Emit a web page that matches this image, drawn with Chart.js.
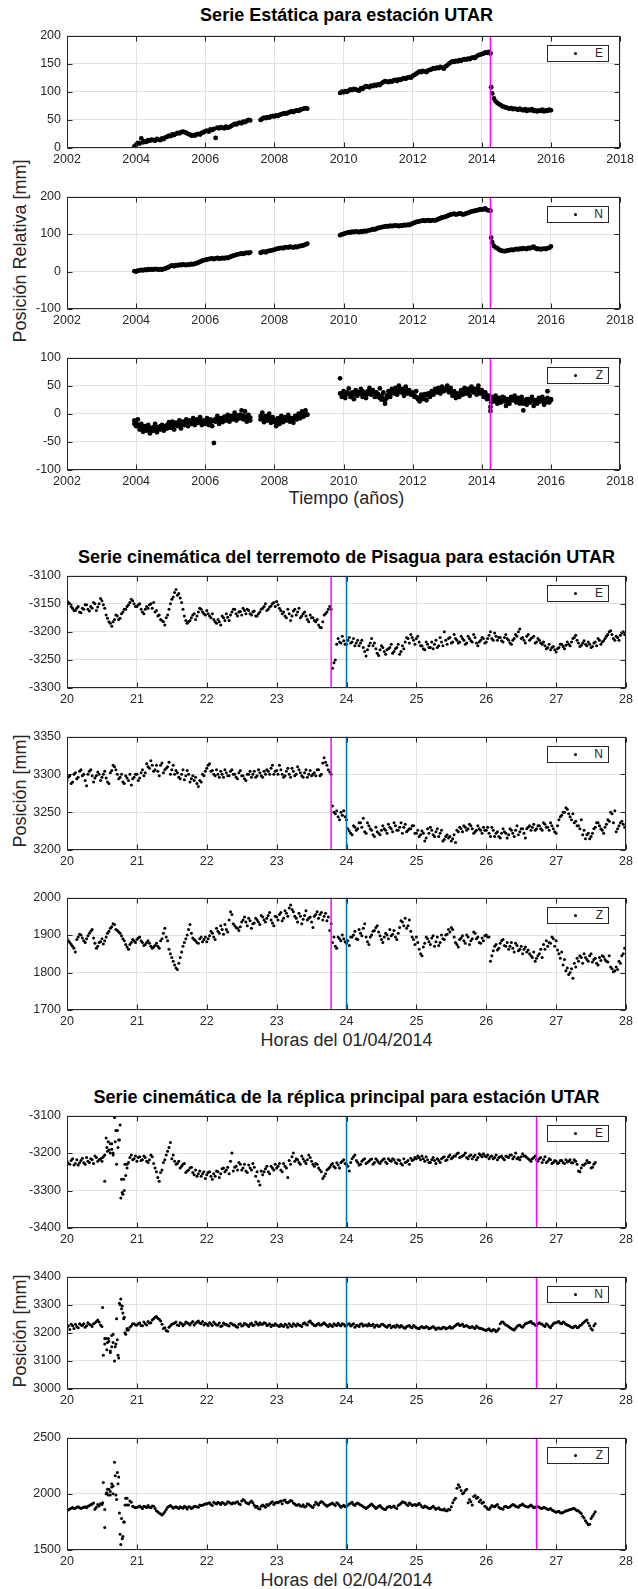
<!DOCTYPE html>
<html lang="es">
<head>
<meta charset="UTF-8">
<title>Series UTAR</title>
<script src="https://cdn.jsdelivr.net/npm/chart.js"></script>
<style>
  body { margin: 0; background: #fff; font-family: "Liberation Sans", Arial, sans-serif; color: #262626; }
  #page { position: relative; width: 638px; height: 1589px; overflow: hidden; }
  canvas { position: absolute; left: 0; }
  .title { position: absolute; left: 37px; width: 619px; text-align: center; font-weight: bold; font-size: 18px; line-height: 20px; color: #000; white-space: nowrap; }
  .xlab { position: absolute; left: 67px; width: 559px; text-align: center; font-size: 18px; line-height: 20px; }
  .ylab { position: absolute; left: -130px; width: 300px; text-align: center; font-size: 18px; line-height: 20px; transform: rotate(-90deg); }
  .leg { position: absolute; left: 547px; width: 60px; height: 15px; border: 1px solid #262626; background: #fff; font-size: 12px; }
  .leg i { position: absolute; left: 26px; top: 6px; width: 3px; height: 3px; border-radius: 50%; background: #000; }
  .leg b { position: absolute; right: 5px; top: 1px; font-weight: normal; line-height: 13px; }
</style>
</head>
<body>
<div id="page">
  <div class="title" style="top:5px">Serie Estática para estación UTAR</div>
  <div class="title" style="top:547px">Serie cinemática del terremoto de Pisagua para estación UTAR</div>
  <div class="title" style="top:1087px">Serie cinemática de la réplica principal para estación UTAR</div>
  <div class="xlab" style="top:488px">Tiempo (años)</div>
  <div class="xlab" style="top:1030px">Horas del 01/04/2014</div>
  <div class="xlab" style="top:1570px">Horas del 02/04/2014</div>
  <div class="ylab" style="top:241px">Posición Relativa [mm]</div>
  <div class="ylab" style="top:781px">Posición [mm]</div>
  <div class="ylab" style="top:1321px">Posición [mm]</div>
</div>
<script>
// ---- static series (years) ----
const years = [
  2003.95,
  2004.00,2004.05,2004.10,2004.15,2004.20,2004.25,2004.30,2004.35,2004.40,2004.45,2004.50,2004.55,2004.60,2004.65,2004.70,2004.75,2004.80,2004.85,2004.90,2004.95,
  2005.00,2005.05,2005.10,2005.15,2005.20,2005.25,2005.30,2005.35,2005.40,2005.45,2005.50,2005.55,2005.60,2005.65,2005.70,2005.75,2005.80,2005.85,2005.90,2005.95,
  2006.00,2006.05,2006.10,2006.15,2006.20,2006.25,2006.30,2006.35,2006.40,2006.45,2006.50,2006.55,2006.60,2006.65,2006.70,2006.75,2006.80,2006.85,2006.90,2006.95,
  2007.00,2007.05,2007.10,2007.15,2007.20,2007.25,2007.30,
  2007.60,2007.65,2007.70,2007.75,2007.80,2007.85,2007.90,2007.95,
  2008.00,2008.05,2008.10,2008.15,2008.20,2008.25,2008.30,2008.35,2008.40,2008.45,2008.50,2008.55,2008.60,2008.65,2008.70,2008.75,2008.80,2008.85,2008.90,2008.95,
  2009.90,2009.95,
  2010.00,2010.05,2010.10,2010.15,2010.20,2010.25,2010.30,2010.35,2010.40,2010.45,2010.50,2010.55,2010.60,2010.65,2010.70,2010.75,2010.80,2010.85,2010.90,2010.95,
  2011.00,2011.05,2011.10,2011.15,2011.20,2011.25,2011.30,2011.35,2011.40,2011.45,2011.50,2011.55,2011.60,2011.65,2011.70,2011.75,2011.80,2011.85,2011.90,2011.95,
  2012.00,2012.05,2012.10,2012.15,2012.20,2012.25,2012.30,2012.35,2012.40,2012.45,2012.50,2012.55,2012.60,2012.65,2012.70,2012.75,2012.80,2012.85,2012.90,2012.95,
  2013.00,2013.05,2013.10,2013.15,2013.20,2013.25,2013.30,2013.35,2013.40,2013.45,2013.50,2013.55,2013.60,2013.65,2013.70,2013.75,2013.80,2013.85,2013.90,2013.95,
  2014.00,2014.05,2014.10,2014.15,2014.20,2014.25,
  2014.27,2014.30,2014.35,2014.40,2014.45,2014.50,2014.55,2014.60,2014.65,2014.70,2014.75,2014.80,2014.85,2014.90,2014.95,
  2015.00,2015.05,2015.10,2015.15,2015.20,2015.25,2015.30,2015.35,2015.40,2015.45,2015.50,2015.55,2015.60,2015.65,2015.70,2015.75,2015.80,2015.85,2015.90,2015.95,
  2016.00
];
const eStatic = [
  3,
  6,9,8,17,10,12,11,14,13,15,14,13,16,15,14,17,16,19,20,22,
  21,24,23,25,27,26,28,29,28,27,25,24,22,23,22,24,25,24,27,28,
  30,31,29,33,32,34,18,36,35,37,36,35,38,36,37,39,41,43,42,44,
  45,44,47,46,48,50,49,
  50,52,54,53,55,54,56,57,
  56,58,57,59,60,61,62,61,63,64,65,64,66,67,66,68,69,70,71,70,
  98,100,
  99,101,100,102,104,103,105,104,103,102,106,105,108,110,109,108,111,110,112,111,
  113,112,115,117,119,118,117,119,118,120,121,119,122,121,123,124,123,125,126,125,
  128,130,132,134,136,135,137,136,135,138,139,140,142,141,143,142,144,143,141,145,
  147,150,152,154,153,155,154,156,155,157,158,157,159,158,160,161,160,163,165,166,
  167,168,170,169,171,168,
  108,97,88,83,80,78,76,74,73,72,71,70,71,69,70,
  69,68,70,68,67,69,66,68,67,69,66,67,65,67,66,68,65,67,66,68,
  67
];
const nStatic = [
  1,
  0,2,3,4,3,5,4,6,5,6,5,7,6,5,6,5,7,8,10,12,
  15,16,14,17,16,18,17,19,18,17,19,18,20,19,21,22,24,26,28,30,
  31,32,33,34,35,33,35,36,34,35,36,35,37,36,38,40,42,43,45,46,
  47,48,47,49,50,49,51,
  50,52,53,51,54,55,56,57,
  58,60,61,62,63,62,64,65,64,66,65,64,66,65,67,68,69,70,72,74,
  97,99,
  100,102,103,105,104,106,105,107,106,105,107,106,108,107,109,110,111,113,112,114,
  116,117,118,119,120,121,120,122,121,122,123,122,121,123,122,124,123,125,124,126,
  128,130,132,133,134,135,136,135,136,137,135,136,137,136,138,140,142,144,145,146,
  148,150,152,153,154,152,153,155,154,152,153,155,156,158,160,161,162,163,164,166,
  165,166,168,164,163,162,
  90,78,68,64,62,58,56,55,54,55,56,57,58,57,59,
  60,59,61,60,62,61,60,63,62,64,66,62,60,61,59,60,61,60,62,63,
  67
];
// Z is a wide band: two samples per epoch
const zStatic = [
  -12,
  -22,-10,-28,-18,-32,-22,-30,-20,-35,-25,-30,-18,-33,-24,-28,-20,-30,-22,-26,-15,
  -25,-14,-28,-16,-22,-12,-26,-14,-20,-10,-22,-12,-18,-8,-20,-10,-16,-6,-20,-12,
  -18,-8,-20,-10,-22,-52,-14,-4,-18,-8,-15,-5,-12,-2,-14,-4,-10,2,-12,-3,
  -8,6,-10,4,-14,-2,-12,
  -10,2,-15,-4,-12,0,-16,-6,
  -10,-22,-8,-18,-4,-15,-6,-12,-2,-14,-8,-16,-4,-10,0,-8,4,-5,6,-2,
  63,30,
  40,28,35,45,30,38,26,42,32,36,44,30,38,28,40,46,34,42,30,38,
  35,45,25,38,18,32,40,30,44,36,46,34,50,38,44,32,48,36,42,34,
  38,30,40,28,22,34,26,32,24,36,30,40,34,44,38,46,36,48,40,44,
  50,38,46,32,40,28,36,30,42,34,46,36,44,32,48,38,44,34,50,36,
  42,30,38,26,32,5,
  20,30,22,32,18,28,20,30,22,14,26,18,30,24,32,
  20,28,18,30,6,24,16,26,20,30,14,24,18,28,22,30,16,26,40,20,
  24
];
const zStatic2 = [
  -18,
  -16,-20,-22,-25,-26,-28,-24,-27,-29,-30,-24,-26,-28,-25,-22,-24,-26,-27,-20,-21,
  -19,-22,-20,-18,-17,-19,-21,-18,-16,-15,-17,-16,-13,-15,-14,-16,-11,-13,-15,-16,
  -13,-14,-15,-16,-12,-13,-9,-10,-12,-11,-9,-8,-7,-6,-9,-8,-4,-5,-6,-8,
  -2,-3,-4,-5,-6,-8,-7,
  -4,-6,-8,-9,-5,-7,-10,-11,
  -15,-14,-13,-11,-9,-8,-10,-6,-7,-8,-10,-9,-6,-4,-5,-3,-1,0,-2,-1,
  36,34,
  34,36,38,36,35,33,34,36,37,38,36,40,34,36,35,38,40,38,36,34,
  30,28,32,26,24,28,34,36,38,40,42,40,42,44,38,40,38,42,38,36,
  34,32,30,26,28,30,32,35,33,34,36,38,40,42,41,40,44,46,44,42,
  44,42,40,38,35,34,32,34,36,38,40,42,38,40,42,44,40,42,44,38,
  38,36,34,32,28,12,
  26,24,26,28,25,22,26,24,28,25,20,22,26,28,24,
  26,24,22,25,18,20,26,22,24,26,22,20,24,22,26,24,22,20,28,22,
  26
];

// ---- kinematic series (hours) ----
const hours = [
  20.00,20.04,20.08,20.12,20.16,20.20,20.24,20.28,20.32,20.36,20.40,20.44,20.48,20.52,20.56,20.60,20.64,20.68,20.72,20.76,20.80,20.84,20.88,20.92,20.96,
  21.00,21.04,21.08,21.12,21.16,21.20,21.24,21.28,21.32,21.36,21.40,21.44,21.48,21.52,21.56,21.60,21.64,21.68,21.72,21.76,21.80,21.84,21.88,21.92,21.96,
  22.00,22.04,22.08,22.12,22.16,22.20,22.24,22.28,22.32,22.36,22.40,22.44,22.48,22.52,22.56,22.60,22.64,22.68,22.72,22.76,22.80,22.84,22.88,22.92,22.96,
  23.00,23.04,23.08,23.12,23.16,23.20,23.24,23.28,23.32,23.36,23.40,23.44,23.48,23.52,23.56,23.60,23.64,23.68,23.72,23.76,23.80,23.84,23.88,23.92,23.96,
  24.00,24.04,24.08,24.12,24.16,24.20,24.24,24.28,24.32,24.36,24.40,24.44,24.48,24.52,24.56,24.60,24.64,24.68,24.72,24.76,24.80,24.84,24.88,24.92,24.96,
  25.00,25.04,25.08,25.12,25.16,25.20,25.24,25.28,25.32,25.36,25.40,25.44,25.48,25.52,25.56,25.60,25.64,25.68,25.72,25.76,25.80,25.84,25.88,25.92,25.96,
  26.00,26.04,26.08,26.12,26.16,26.20,26.24,26.28,26.32,26.36,26.40,26.44,26.48,26.52,26.56,26.60,26.64,26.68,26.72,26.76,26.80,26.84,26.88,26.92,26.96,
  27.00,27.04,27.08,27.12,27.16,27.20,27.24,27.28,27.32,27.36,27.40,27.44,27.48,27.52,27.56,27.60,27.64,27.68,27.72,27.76,27.80,27.84,27.88,27.92,27.96
];
const hoursMid = [
  20.02,20.06,20.10,20.14,20.18,20.22,20.26,20.30,20.34,20.38,20.42,20.46,20.50,20.54,20.58,20.62,20.66,20.70,20.74,20.78,20.82,20.86,20.90,20.94,20.98,
  21.02,21.06,21.10,21.14,21.18,21.22,21.26,21.30,21.34,21.38,21.42,21.46,21.50,21.54,21.58,21.62,21.66,21.70,21.74,21.78,21.82,21.86,21.90,21.94,21.98,
  22.02,22.06,22.10,22.14,22.18,22.22,22.26,22.30,22.34,22.38,22.42,22.46,22.50,22.54,22.58,22.62,22.66,22.70,22.74,22.78,22.82,22.86,22.90,22.94,22.98,
  23.02,23.06,23.10,23.14,23.18,23.22,23.26,23.30,23.34,23.38,23.42,23.46,23.50,23.54,23.58,23.62,23.66,23.70,23.74,23.78,23.82,23.86,23.90,23.94,23.98,
  24.02,24.06,24.10,24.14,24.18,24.22,24.26,24.30,24.34,24.38,24.42,24.46,24.50,24.54,24.58,24.62,24.66,24.70,24.74,24.78,24.82,24.86,24.90,24.94,24.98,
  25.02,25.06,25.10,25.14,25.18,25.22,25.26,25.30,25.34,25.38,25.42,25.46,25.50,25.54,25.58,25.62,25.66,25.70,25.74,25.78,25.82,25.86,25.90,25.94,25.98,
  26.02,26.06,26.10,26.14,26.18,26.22,26.26,26.30,26.34,26.38,26.42,26.46,26.50,26.54,26.58,26.62,26.66,26.70,26.74,26.78,26.82,26.86,26.90,26.94,26.98,
  27.02,27.06,27.10,27.14,27.18,27.22,27.26,27.30,27.34,27.38,27.42,27.46,27.50,27.54,27.58,27.62,27.66,27.70,27.74,27.78,27.82,27.86,27.90,27.94,27.98
];
// 01/04/2014
const eQuake = [
  -3145,-3150,-3158,-3162,-3155,-3166,-3160,-3152,-3163,-3158,-3150,-3156,-3141,-3152,-3170,-3182,-3190,-3178,-3172,-3176,-3165,-3160,-3152,-3142,-3150,
  -3155,-3150,-3165,-3160,-3158,-3150,-3148,-3162,-3170,-3180,-3188,-3170,-3150,-3138,-3125,-3132,-3148,-3172,-3185,-3180,-3170,-3178,-3165,-3160,-3168,
  -3162,-3172,-3168,-3182,-3178,-3188,-3175,-3168,-3180,-3165,-3160,-3172,-3164,-3158,-3168,-3162,-3170,-3163,-3172,-3165,-3158,-3150,-3160,-3154,-3148,
  -3146,-3158,-3168,-3172,-3160,-3180,-3163,-3170,-3158,-3172,-3165,-3178,-3170,-3175,-3182,-3188,-3193,-3170,-3165,-3155,-3265,-3250,-3212,-3220,-3216,
  -3222,-3210,-3218,-3225,-3215,-3220,-3228,-3243,-3225,-3212,-3220,-3238,-3232,-3228,-3240,-3230,-3222,-3235,-3228,-3240,-3225,-3218,-3212,-3205,-3215,
  -3212,-3218,-3225,-3232,-3222,-3228,-3230,-3215,-3225,-3218,-3200,-3222,-3210,-3218,-3212,-3220,-3208,-3215,-3220,-3212,-3218,-3210,-3225,-3215,-3212,
  -3218,-3206,-3212,-3202,-3215,-3210,-3218,-3205,-3215,-3222,-3212,-3208,-3195,-3210,-3220,-3205,-3212,-3208,-3218,-3215,-3222,-3225,-3228,-3232,-3226,
  -3236,-3228,-3222,-3230,-3218,-3225,-3212,-3206,-3220,-3224,-3216,-3225,-3222,-3226,-3218,-3212,-3222,-3216,-3208,-3200,-3205,-3215,-3210,-3206,-3200
];
const eQuake2 = [
  -3148,-3155,-3162,-3158,-3165,-3158,-3152,-3160,-3155,-3148,-3162,-3150,-3145,-3158,-3176,-3185,-3182,-3170,-3178,-3168,-3160,-3155,-3148,-3145,-3155,
  -3152,-3160,-3168,-3155,-3152,-3158,-3165,-3172,-3178,-3182,-3175,-3160,-3142,-3130,-3135,-3140,-3160,-3180,-3182,-3175,-3168,-3172,-3158,-3165,-3170,
  -3168,-3175,-3178,-3185,-3182,-3172,-3180,-3174,-3170,-3160,-3168,-3165,-3170,-3162,-3160,-3168,-3165,-3172,-3168,-3160,-3155,-3162,-3156,-3150,-3155,
  -3152,-3162,-3165,-3175,-3168,-3172,-3160,-3165,-3175,-3168,-3172,-3182,-3175,-3180,-3178,-3192,-3182,-3168,-3160,-3160,-3255,-3222,-3218,-3208,-3222,
  -3215,-3220,-3212,-3220,-3225,-3215,-3235,-3232,-3220,-3225,-3230,-3242,-3225,-3235,-3232,-3228,-3238,-3230,-3222,-3235,-3230,-3210,-3220,-3210,-3222,
  -3208,-3225,-3230,-3218,-3228,-3218,-3222,-3228,-3210,-3225,-3215,-3212,-3220,-3205,-3215,-3218,-3212,-3222,-3208,-3216,-3205,-3220,-3218,-3210,-3220,
  -3212,-3200,-3215,-3208,-3210,-3216,-3210,-3212,-3220,-3215,-3205,-3200,-3212,-3215,-3208,-3215,-3210,-3220,-3212,-3220,-3218,-3230,-3222,-3228,-3232,
  -3230,-3222,-3226,-3224,-3222,-3218,-3210,-3215,-3226,-3220,-3222,-3218,-3228,-3220,-3225,-3215,-3218,-3212,-3205,-3198,-3212,-3208,-3215,-3202,-3205
];
const nQuake = [
  3292,3298,3290,3302,3296,3306,3300,3285,3304,3298,3295,3303,3292,3300,3295,3288,3305,3310,3300,3296,3290,3298,3292,3286,3296,
  3300,3295,3306,3302,3310,3318,3304,3312,3298,3315,3306,3310,3300,3312,3305,3296,3300,3293,3305,3290,3298,3296,3284,3290,3298,
  3308,3314,3305,3298,3300,3304,3296,3302,3298,3306,3300,3294,3305,3298,3292,3300,3296,3304,3298,3302,3296,3300,3304,3308,3300,
  3305,3312,3300,3298,3308,3296,3304,3300,3306,3298,3302,3296,3305,3300,3298,3306,3300,3322,3312,3303,3258,3248,3244,3250,3252,
  3240,3225,3220,3230,3228,3236,3242,3222,3232,3226,3218,3224,3220,3232,3226,3234,3228,3236,3226,3230,3222,3234,3226,3228,3232,
  3222,3218,3225,3212,3228,3230,3220,3224,3218,3226,3214,3220,3218,3215,3210,3224,3228,3232,3226,3234,3228,3224,3232,3226,3230,
  3226,3222,3230,3218,3224,3216,3228,3222,3220,3226,3218,3232,3224,3228,3216,3230,3226,3234,3228,3232,3226,3234,3230,3236,3228,
  3222,3240,3246,3250,3254,3244,3248,3238,3232,3240,3226,3220,3215,3222,3230,3236,3228,3222,3234,3238,3248,3252,3228,3236,3234
];
const nQuake2 = [
  3296,3288,3300,3294,3304,3298,3292,3300,3306,3290,3298,3300,3296,3304,3290,3302,3312,3306,3294,3300,3288,3295,3300,3294,3300,
  3292,3302,3298,3314,3308,3312,3306,3304,3312,3302,3308,3316,3306,3300,3302,3294,3306,3298,3300,3294,3292,3288,3292,3300,3304,
  3312,3304,3300,3306,3296,3300,3306,3298,3304,3300,3296,3302,3298,3294,3300,3304,3300,3296,3306,3298,3304,3306,3300,3312,3304,
  3300,3306,3296,3304,3300,3308,3298,3310,3302,3296,3306,3300,3298,3302,3306,3298,3315,3316,3306,3300,3250,3252,3240,3246,3244,
  3228,3222,3232,3226,3236,3230,3224,3236,3228,3220,3230,3222,3226,3228,3222,3230,3224,3232,3226,3236,3230,3224,3228,3232,3222,
  3226,3220,3222,3216,3222,3226,3218,3228,3222,3212,3218,3216,3212,3220,3226,3230,3224,3230,3228,3232,3222,3226,3228,3222,3226,
  3230,3218,3226,3222,3218,3222,3224,3216,3228,3222,3226,3220,3228,3222,3228,3232,3230,3226,3232,3228,3236,3230,3226,3232,3224,
  3232,3244,3250,3256,3248,3240,3236,3232,3228,3220,3215,3222,3218,3228,3236,3232,3226,3230,3240,3250,3236,3224,3232,3238,3230
];
const zQuake = [
  1892,1880,1870,1855,1895,1900,1885,1890,1905,1915,1878,1870,1882,1876,1895,1910,1922,1928,1912,1905,1890,1875,1862,1880,1884,
  1888,1895,1880,1875,1885,1870,1868,1878,1865,1890,1918,1885,1850,1830,1812,1825,1855,1880,1900,1928,1892,1885,1878,1895,1888,
  1882,1898,1905,1888,1910,1925,1902,1915,1940,1955,1925,1918,1922,1940,1935,1945,1918,1932,1940,1928,1948,1935,1952,1940,1925,
  1948,1955,1938,1965,1950,1980,1962,1945,1958,1930,1952,1940,1948,1920,1955,1945,1960,1950,1938,1912,1880,1870,1895,1885,1890,
  1878,1872,1895,1910,1888,1905,1918,1895,1875,1900,1912,1925,1898,1880,1905,1890,1898,1912,1888,1920,1935,1945,1925,1910,1888,
  1895,1862,1845,1878,1890,1875,1898,1882,1872,1900,1888,1902,1908,1915,1880,1868,1892,1885,1900,1875,1890,1905,1895,1878,1885,
  1900,1895,1845,1870,1860,1878,1888,1870,1862,1880,1855,1872,1862,1850,1868,1860,1845,1855,1838,1850,1840,1862,1870,1878,1890,
  1885,1850,1855,1835,1812,1800,1785,1815,1830,1840,1850,1835,1845,1828,1838,1820,1832,1842,1830,1845,1810,1805,1808,1825,1850
];
const zQuake2 = [
  1885,1875,1865,1888,1902,1892,1880,1898,1910,1892,1865,1880,1890,1885,1905,1918,1930,1915,1908,1898,1885,1868,1875,1888,1880,
  1892,1885,1872,1880,1878,1865,1872,1870,1885,1905,1895,1862,1840,1820,1808,1840,1870,1890,1915,1905,1888,1880,1890,1882,1895,
  1890,1910,1895,1918,1905,1915,1928,1908,1962,1930,1920,1912,1935,1948,1925,1938,1930,1945,1935,1952,1940,1945,1960,1932,1950,
  1940,1960,1945,1958,1972,1968,1950,1935,1950,1942,1965,1945,1935,1950,1962,1955,1940,1958,1948,1930,1895,1865,1890,1900,1882,
  1885,1895,1900,1890,1915,1898,1930,1882,1895,1910,1920,1908,1888,1895,1900,1915,1902,1895,1905,1938,1925,1918,1940,1895,1875,
  1880,1850,1868,1895,1882,1892,1870,1895,1880,1890,1900,1915,1920,1895,1875,1888,1898,1878,1895,1885,1908,1890,1880,1892,1898,
  1895,1830,1858,1875,1865,1885,1872,1880,1870,1865,1878,1858,1870,1862,1855,1850,1840,1830,1845,1862,1875,1885,1880,1895,1870,
  1860,1838,1820,1805,1795,1810,1825,1838,1845,1825,1840,1830,1850,1835,1825,1840,1845,1835,1828,1815,1802,1815,1830,1845,1865
];
// 02/04/2014 (record ends at 27.56 h)
const eAfter = [
  -3222,-3230,-3215,-3228,-3232,-3220,-3226,-3212,-3225,-3218,-3208,-3222,-3215,-3210,-3160,-3192,-3175,-3105,-3140,-3125,-3310,-3260,-3225,-3205,-3215,
  -3222,-3210,-3218,-3212,-3225,-3205,-3228,-3250,-3275,-3245,-3218,-3195,-3172,-3205,-3230,-3222,-3235,-3228,-3248,-3240,-3252,-3245,-3255,-3262,-3250,
  -3258,-3250,-3270,-3262,-3250,-3255,-3240,-3245,-3255,-3200,-3238,-3245,-3230,-3240,-3248,-3232,-3245,-3238,-3250,-3285,-3258,-3242,-3250,-3235,-3245,
  -3240,-3228,-3250,-3235,-3265,-3230,-3200,-3215,-3225,-3208,-3222,-3218,-3212,-3230,-3228,-3240,-3250,-3262,-3245,-3238,-3228,-3240,-3232,-3225,-3218,
  -3230,-3248,-3215,-3205,-3225,-3230,-3218,-3228,-3222,-3216,-3225,-3220,-3228,-3218,-3224,-3215,-3222,-3218,-3228,-3220,-3232,-3225,-3220,-3214,-3218,
  -3215,-3212,-3208,-3222,-3218,-3225,-3212,-3228,-3220,-3215,-3210,-3218,-3205,-3212,-3208,-3200,-3210,-3205,-3212,-3208,-3215,-3205,-3212,-3206,-3202,
  -3210,-3215,-3208,-3212,-3218,-3210,-3214,-3208,-3212,-3205,-3210,-3215,-3218,-3202,-3208,-3215,-3222,-3212,-3218,-3215,-3225,-3210,-3222,-3218,-3225,
  -3222,-3226,-3220,-3228,-3224,-3218,-3226,-3222,-3248,-3240,-3232,-3220,-3225,-3238,-3225
];
const eAfter2 = [
  -3228,-3220,-3232,-3218,-3226,-3214,-3230,-3222,-3215,-3228,-3212,-3218,-3222,-3205,-3195,-3175,-3200,-3140,-3165,-3270,-3300,-3230,-3212,-3218,-3208,
  -3212,-3220,-3208,-3222,-3218,-3210,-3240,-3265,-3252,-3225,-3205,-3185,-3215,-3222,-3228,-3240,-3230,-3252,-3245,-3238,-3258,-3262,-3248,-3255,-3268,
  -3252,-3262,-3255,-3248,-3265,-3242,-3250,-3238,-3222,-3248,-3235,-3225,-3245,-3230,-3252,-3240,-3228,-3262,-3275,-3248,-3250,-3235,-3255,-3240,-3230,
  -3235,-3245,-3228,-3240,-3220,-3210,-3222,-3218,-3230,-3215,-3228,-3205,-3222,-3235,-3230,-3245,-3268,-3255,-3242,-3232,-3236,-3226,-3240,-3222,-3228,
  -3235,-3225,-3210,-3220,-3232,-3222,-3215,-3225,-3218,-3230,-3215,-3225,-3222,-3215,-3228,-3220,-3215,-3225,-3218,-3228,-3215,-3224,-3230,-3220,-3212,
  -3208,-3218,-3215,-3210,-3225,-3218,-3220,-3215,-3225,-3212,-3220,-3210,-3215,-3208,-3202,-3212,-3208,-3200,-3215,-3205,-3210,-3218,-3202,-3210,-3208,
  -3205,-3210,-3215,-3205,-3212,-3208,-3218,-3210,-3205,-3215,-3200,-3212,-3210,-3208,-3212,-3218,-3215,-3208,-3222,-3212,-3218,-3225,-3215,-3228,-3220,
  -3228,-3220,-3225,-3218,-3222,-3226,-3218,-3230,-3250,-3232,-3228,-3225,-3240,-3230
];
const nAfter = [
  3220,3212,3225,3230,3218,3228,3232,3225,3230,3222,3235,3245,3228,3120,3180,3170,3150,3100,3175,3300,3270,3195,3210,3225,3232,
  3228,3235,3225,3232,3240,3236,3250,3258,3248,3230,3218,3205,3225,3232,3238,3226,3232,3230,3236,3228,3240,3234,3242,3232,3228,
  3230,3236,3226,3232,3228,3222,3235,3230,3224,3232,3228,3220,3232,3226,3230,3222,3234,3228,3232,3236,3230,3234,3228,3222,3226,
  3228,3222,3225,3230,3220,3226,3232,3224,3228,3222,3236,3228,3242,3230,3225,3234,3228,3236,3226,3230,3222,3228,3234,3225,3230,
  3226,3232,3228,3220,3226,3230,3224,3228,3232,3226,3220,3228,3224,3230,3222,3226,3218,3224,3228,3220,3222,3216,3224,3220,3226,
  3218,3214,3222,3218,3220,3216,3222,3212,3218,3214,3220,3216,3222,3218,3226,3232,3228,3222,3226,3218,3222,3215,3220,3216,3212,
  3208,3214,3206,3210,3208,3232,3238,3228,3222,3215,3210,3222,3228,3220,3232,3236,3240,3232,3226,3236,3230,3222,3228,3218,3232,
  3236,3240,3232,3236,3228,3222,3218,3224,3220,3228,3238,3245,3225,3210,3232
];
const nAfter2 = [
  3225,3230,3215,3222,3232,3226,3220,3236,3228,3232,3240,3238,3222,3180,3165,3135,3195,3160,3110,3285,3255,3210,3220,3232,3228,
  3232,3226,3238,3228,3235,3245,3255,3252,3242,3215,3208,3220,3230,3235,3228,3236,3225,3238,3232,3235,3228,3238,3235,3240,3234,
  3226,3232,3238,3228,3235,3225,3230,3226,3234,3228,3222,3230,3224,3234,3228,3230,3226,3238,3228,3230,3236,3226,3232,3228,3232,
  3225,3230,3222,3228,3232,3222,3228,3232,3226,3232,3230,3238,3235,3226,3230,3228,3232,3230,3222,3226,3232,3226,3228,3232,3224,
  3230,3224,3232,3226,3222,3232,3228,3224,3226,3230,3226,3222,3230,3226,3220,3228,3222,3220,3224,3226,3218,3222,3226,3218,3222,
  3216,3220,3218,3222,3214,3220,3218,3216,3214,3220,3214,3218,3216,3222,3230,3226,3230,3224,3222,3220,3218,3224,3216,3214,3210,
  3212,3208,3212,3204,3214,3238,3232,3226,3218,3212,3216,3226,3222,3226,3234,3238,3234,3228,3232,3232,3226,3232,3222,3226,3236,
  3238,3234,3238,3230,3226,3220,3222,3218,3226,3234,3242,3235,3215,3225
];
const zAfter = [
  1850,1865,1878,1872,1885,1868,1880,1875,1895,1910,1862,1905,1912,2100,2000,2040,2090,2280,2190,1640,1620,1960,1900,1925,1882,
  1878,1892,1870,1885,1895,1875,1888,1850,1830,1812,1840,1880,1895,1872,1885,1868,1878,1890,1865,1882,1875,1890,1880,1895,1905,
  1908,1920,1895,1915,1925,1905,1918,1912,1925,1908,1915,1930,1905,1950,1922,1910,1935,1898,1888,1865,1900,1880,1895,1920,1905,
  1925,1930,1912,1945,1920,1940,1918,1898,1905,1890,1882,1912,1895,1878,1925,1900,1932,1910,1890,1905,1918,1895,1912,1880,1898,
  1888,1910,1925,1895,1918,1900,1885,1870,1890,1908,1885,1878,1895,1870,1860,1885,1878,1892,1870,1905,1930,1920,1895,1910,1900,
  1895,1915,1885,1892,1878,1870,1888,1862,1875,1858,1865,1848,1858,1920,1960,2080,2030,2010,2040,1950,1900,1985,1970,1945,1925,
  1880,1860,1895,1885,1905,1870,1862,1890,1878,1895,1900,1885,1895,1908,1890,1882,1900,1875,1890,1880,1868,1875,1860,1870,1850,
  1835,1845,1828,1840,1850,1860,1870,1858,1848,1825,1785,1742,1730,1800,1840
];
const zAfter2 = [
  1858,1872,1868,1880,1876,1875,1885,1890,1902,1918,1880,1892,1905,1860,2040,1990,2070,1990,2150,1780,1750,1900,1935,1890,1875,
  1885,1880,1890,1878,1880,1892,1870,1838,1820,1825,1860,1890,1885,1880,1878,1885,1872,1880,1885,1870,1890,1885,1900,1898,1912,
  1915,1905,1925,1910,1918,1922,1905,1930,1915,1920,1925,1912,1935,1940,1915,1925,1920,1880,1870,1890,1892,1905,1910,1930,1918,
  1920,1935,1940,1925,1930,1935,1908,1900,1892,1902,1890,1905,1885,1900,1912,1920,1925,1900,1898,1912,1905,1920,1895,1890,1885,
  1900,1915,1905,1912,1908,1895,1878,1880,1900,1895,1870,1888,1880,1862,1878,1890,1885,1875,1895,1915,1925,1905,1918,1895,1905,
  1905,1900,1878,1885,1870,1880,1875,1870,1860,1855,1850,1862,1885,1945,2050,2060,2000,2030,1920,1930,1975,1960,1930,1915,1890,
  1865,1878,1888,1895,1880,1870,1885,1880,1885,1905,1890,1880,1900,1895,1885,1892,1888,1880,1885,1872,1880,1868,1862,1855,1842,
  1840,1832,1835,1848,1855,1862,1868,1850,1835,1800,1760,1725,1780,1820
];
// extra scattered points in the disturbed interval around 20.5-20.9 h
const burstHours = [20.51,20.54,20.57,20.59,20.62,20.64,20.66,20.69,20.71,20.73,20.75,20.77,20.79,20.81,20.83,20.86];
const eBurst = [-3212,-3275,-3185,-3170,-3200,-3190,-3205,-3170,-3230,-3185,-3165,-3320,-3305,-3270,-3230,-3240];
const nBurst = [3290,3160,3140,3180,3130,3190,3165,3150,3250,3120,3305,3320,3295,3250,3200,3215];
const zBurst = [1920,1700,2010,1990,2020,2060,2000,2160,1950,2090,1830,1550,1600,1750,1900,1960];

// ---- ticks ----
const yearTicks = [2002,2004,2006,2008,2010,2012,2014,2016,2018];
const hourTicks = [20,21,22,23,24,25,26,27,28];
const eStaticTicks = [0,50,100,150,200];
const nStaticTicks = [-100,0,100,200];
const zStaticTicks = [-100,-50,0,50,100];
const eQuakeTicks = [-3300,-3250,-3200,-3150,-3100];
const nQuakeTicks = [3200,3250,3300,3350];
const zQuakeTicks = [1700,1800,1900,2000];
const eAfterTicks = [-3400,-3300,-3200,-3100];
const nAfterTicks = [3000,3100,3200,3300,3400];
const zAfterTicks = [1500,2000,2500];

// event lines
const staticQuakeYear = 2014.25;
const quakeHour = 23.78;
const midnightHour = 24;
const aftershockHour = 26.72;

const MAGENTA = '#ff00ff', BLUE = '#0072bd';
const FONT = '"Liberation Sans", Arial, sans-serif';
const PAD_T = 10, AX_H = 24, LEFT = 67, RIGHT_PAD = 12;

const panels = [
  {top: 32,   bottom: 148,  sets: [[years, eStatic]], xt: yearTicks, yt: eStaticTicks, lab: 'E', r: 2.4, marks: [[staticQuakeYear, MAGENTA]]},
  {top: 193,  bottom: 309,  sets: [[years, nStatic]], xt: yearTicks, yt: nStaticTicks, lab: 'N', r: 2.4, marks: [[staticQuakeYear, MAGENTA]]},
  {top: 354,  bottom: 470,  sets: [[years, zStatic], [years, zStatic2]], xt: yearTicks, yt: zStaticTicks, lab: 'Z', r: 2.4, marks: [[staticQuakeYear, MAGENTA]]},
  {top: 572,  bottom: 688,  sets: [[hours, eQuake], [hoursMid, eQuake2]], xt: hourTicks, yt: eQuakeTicks, lab: 'E', r: 1.5, marks: [[quakeHour, MAGENTA], [midnightHour, BLUE]]},
  {top: 733,  bottom: 850,  sets: [[hours, nQuake], [hoursMid, nQuake2]], xt: hourTicks, yt: nQuakeTicks, lab: 'N', r: 1.5, marks: [[quakeHour, MAGENTA], [midnightHour, BLUE]]},
  {top: 894,  bottom: 1010, sets: [[hours, zQuake], [hoursMid, zQuake2]], xt: hourTicks, yt: zQuakeTicks, lab: 'Z', r: 1.5, marks: [[quakeHour, MAGENTA], [midnightHour, BLUE]]},
  {top: 1112, bottom: 1228, sets: [[hours, eAfter], [hoursMid, eAfter2], [burstHours, eBurst]], xt: hourTicks, yt: eAfterTicks, lab: 'E', r: 1.5, marks: [[midnightHour, BLUE], [aftershockHour, MAGENTA]]},
  {top: 1273, bottom: 1389, sets: [[hours, nAfter], [hoursMid, nAfter2], [burstHours, nBurst]], xt: hourTicks, yt: nAfterTicks, lab: 'N', r: 1.5, marks: [[midnightHour, BLUE], [aftershockHour, MAGENTA]]},
  {top: 1434, bottom: 1550, sets: [[hours, zAfter], [hoursMid, zAfter2], [burstHours, zBurst]], xt: hourTicks, yt: zAfterTicks, lab: 'Z', r: 1.5, marks: [[midnightHour, BLUE], [aftershockHour, MAGENTA]]}
];

// box around the axes with inward tick marks (MATLAB look)
const framePlugin = {
  id: 'frame',
  afterDraw(chart) {
    const {ctx, chartArea: a, scales} = chart;
    const L = Math.round(a.left) + 0.5, R = Math.round(a.right) - 0.5;
    const T = Math.round(a.top) + 0.5, B = Math.round(a.bottom) - 0.5;
    ctx.save();
    ctx.strokeStyle = '#262626';
    ctx.lineWidth = 1;
    ctx.beginPath();
    scales.x.ticks.forEach(t => {
      const p = Math.round(scales.x.getPixelForValue(t.value)) + 0.5;
      ctx.moveTo(p, B); ctx.lineTo(p, B - 5);
      ctx.moveTo(p, T); ctx.lineTo(p, T + 5);
    });
    scales.y.ticks.forEach(t => {
      const p = Math.round(scales.y.getPixelForValue(t.value)) + 0.5;
      ctx.moveTo(L, p); ctx.lineTo(L + 5, p);
      ctx.moveTo(R, p); ctx.lineTo(R - 5, p);
    });
    ctx.stroke();
    ctx.strokeRect(L, T, R - L, B - T);
    ctx.restore();
  }
};

const page = document.getElementById('page');

function axis(ticks, fit, pad) {
  return {
    type: 'linear',
    min: ticks[0],
    max: ticks[ticks.length - 1],
    afterBuildTicks: s => { s.ticks = ticks.map(v => ({value: v})); },
    afterFit: fit,
    ticks: {
      callback: v => String(v),
      font: {family: FONT, size: 12.5},
      color: '#262626',
      padding: pad,
      maxRotation: 0,
      autoSkip: false
    },
    grid: {color: '#e2e2e2', drawTicks: false},
    border: {display: false}
  };
}

panels.forEach(p => {
  const cv = document.createElement('canvas');
  cv.width = 638;
  cv.height = (p.bottom - p.top) + PAD_T + AX_H;
  cv.style.top = (p.top - PAD_T) + 'px';
  page.appendChild(cv);

  const datasets = p.sets.map(([xs, ys]) => ({
    data: ys.map((y, i) => ({x: xs[i], y: y})),
    pointRadius: p.r,
    backgroundColor: '#000',
    borderWidth: 0,
    order: 2
  }));
  p.marks.forEach(([xv, col]) => {
    datasets.push({
      data: [{x: xv, y: p.yt[0]}, {x: xv, y: p.yt[p.yt.length - 1]}],
      showLine: true,
      borderColor: col,
      borderWidth: 1.5,
      pointRadius: 0,
      order: 1
    });
  });

  new Chart(cv, {
    type: 'scatter',
    data: {datasets},
    options: {
      responsive: false,
      animation: false,
      devicePixelRatio: 1,
      events: [],
      layout: {padding: {top: PAD_T, right: RIGHT_PAD, bottom: 0, left: 0}},
      plugins: {legend: {display: false}, tooltip: {enabled: false}},
      scales: {
        x: axis(p.xt, s => { s.height = AX_H; }, 4),
        y: axis(p.yt, s => { s.width = LEFT; }, 6)
      }
    },
    plugins: [framePlugin]
  });

  const leg = document.createElement('div');
  leg.className = 'leg';
  leg.style.top = (p.top + 13) + 'px';
  leg.innerHTML = '<i></i><b>' + p.lab + '</b>';
  page.appendChild(leg);
});
</script>
</body>
</html>
